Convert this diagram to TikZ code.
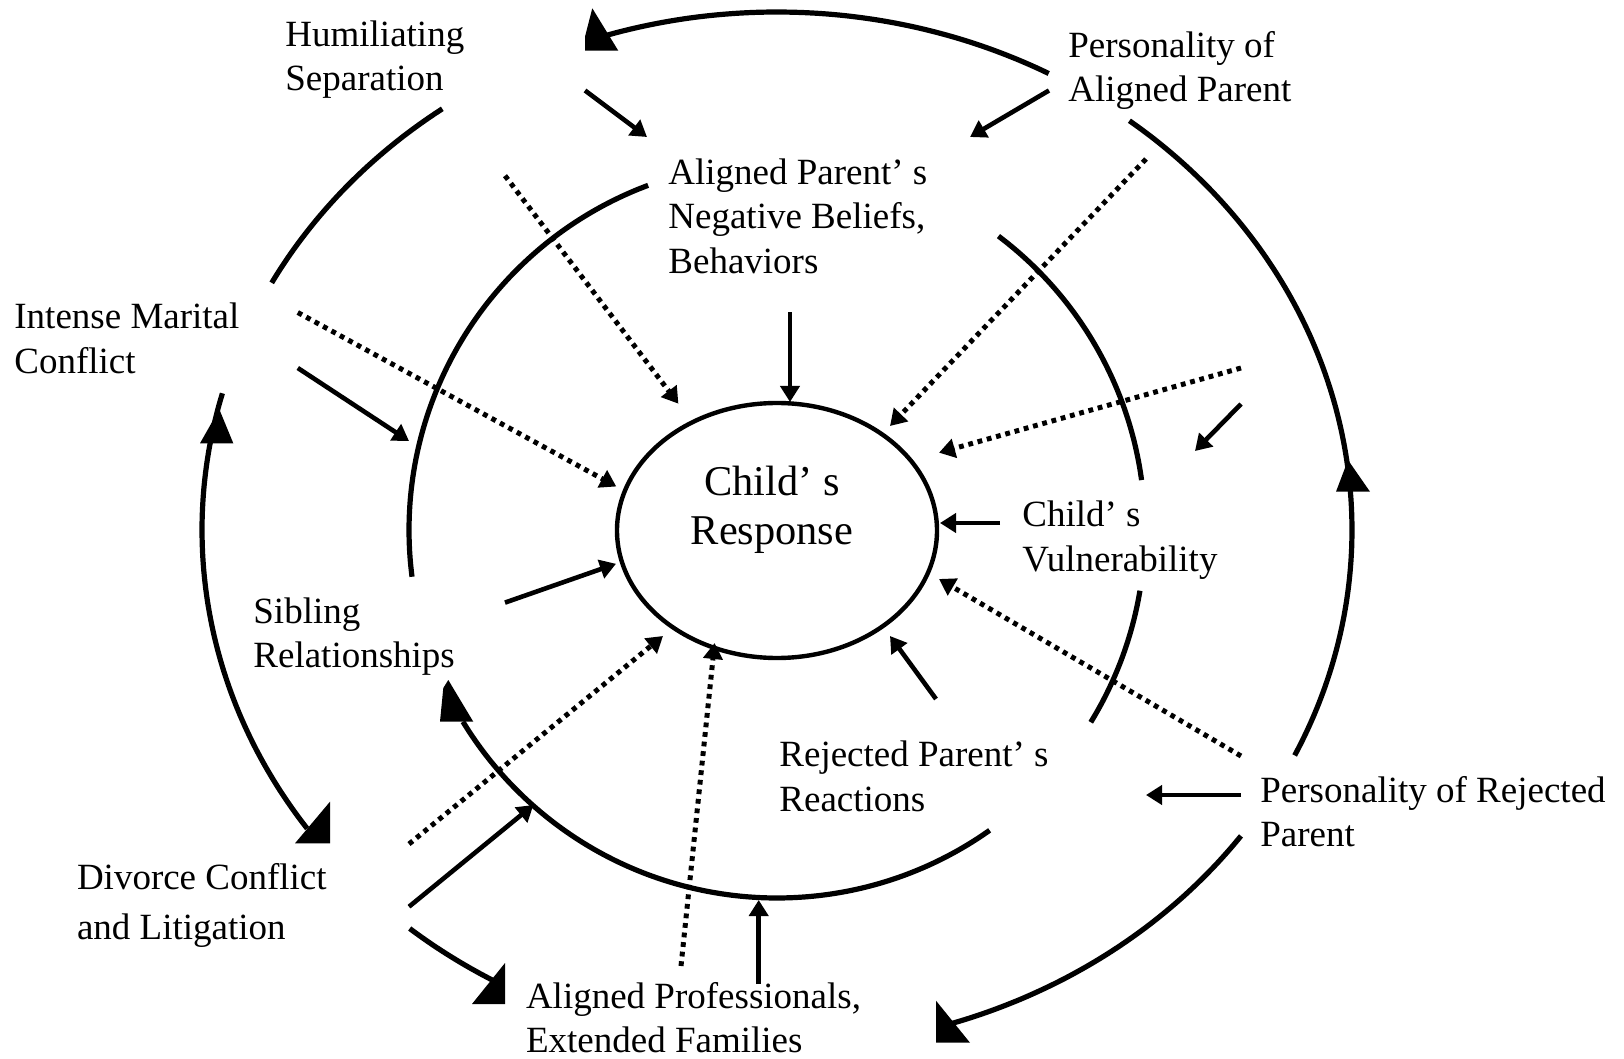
\documentclass[tikz,border=0pt]{standalone}
\usepackage{fontspec}
\setmainfont{Liberation Serif}
\usetikzlibrary{arrows.meta,shapes.geometric}
\newcommand\lblstrut{\rule{0pt}{13.9pt}}
\newcommand\bigstrut{\rule{0pt}{15.9pt}}
\begin{document}
\begin{tikzpicture}[x=0.5pt,y=-0.5pt,
  ring/.style={line width=2.6pt},
  sarr/.style={line width=2.3pt,-{Triangle[length=8pt,width=9.5pt]}},
  darr/.style={line width=2.5pt,dash pattern=on 2.4pt off 2.4pt,-{Triangle[length=8pt,width=9.5pt]}},
  lbl/.style={anchor=north west, inner sep=0pt, align=left, font={\fontsize{18.5}{22.25}\selectfont}},
]
\useasboundingbox (0,0) rectangle (1624,1059);

% labels
\node[lbl] (hum) at (285,17.9) {\lblstrut Humiliating\\Separation};
\node[lbl] (pap) at (1068,29) {\lblstrut Personality of\\Aligned Parent};
\node[lbl] (apb) at (668,156.2) {\lblstrut Aligned Parent’ s\\Negative Beliefs,\\Behaviors};
\node[lbl] (imc) at (14,300.6) {\lblstrut Intense Marital\\Conflict};
\node[lbl] (cvu) at (1022,498.7) {\lblstrut Child’ s\\Vulnerability};
\node[lbl] (sib) at (253,595) {\lblstrut Sibling\\Relationships};
\node[lbl] (rpr) at (779,738.7) {\lblstrut Rejected Parent’ s\\Reactions};
\node[lbl] (prp) at (1260,774.2) {\lblstrut Personality of Rejected\\Parent};
\node[lbl, font={\fontsize{18.5}{25}\selectfont}] (dcl) at (76.6,861) {\lblstrut Divorce Conflict\\and Litigation};
\node[lbl] (apf) at (525.6,980) {\lblstrut Aligned Professionals,\\Extended Families};

% central ellipse
\node[draw, ellipse, line width=2.2pt, minimum width=160pt, minimum height=127.5pt, inner sep=0pt] (resp) at (777,530.5) {};
\node[anchor=north, inner sep=0pt, align=center, font={\fontsize{21.2}{24.5}\selectfont}] (resptxt) at (772,463.2) {\bigstrut Child’ s\\Response};

% outer ring arcs
\draw[ring] plot[domain=61.8:107.2, samples=40, smooth] ({777+575*cos(\x)},{530-518*sin(\x)});
\draw[ring] plot[domain=125.6:151.5, samples=30, smooth] ({777+575*cos(\x)},{530-518*sin(\x)});
\draw[ring] plot[domain=164.7:215.2, samples=40, smooth] ({777+575*cos(\x)},{530-518*sin(\x)});
\draw[ring] plot[domain=230.3:240.6, samples=20, smooth] ({777+575*cos(\x)},{530-518*sin(\x)});
\draw[ring] plot[domain=-72.5:-36.2, samples=30, smooth] ({777+575*cos(\x)},{530-518*sin(\x)});
\draw[ring] plot[domain=-25.8:52.2, samples=50, smooth] ({777+575*cos(\x)},{530-518*sin(\x)});

% outer ring arrowheads
\fill (592.3,8.3) -- (585,36.7) -- (585,50.7) -- (618.3,50.7) -- cycle;
\fill (219.3,409.3) -- (200,443.3) -- (233.3,443.3) -- cycle;
\fill (330,801.7) -- (330,843.3) -- (295,843.3) -- cycle;
\fill (505,963) -- (505,1004) -- (472,1004) -- cycle;
\fill (936,1000.7) -- (936,1042.7) -- (970,1042.7) -- cycle;
\fill (1348,460) -- (1336,491.7) -- (1370,491.7) -- cycle;

% middle ring arcs
\draw[ring] plot[domain=110.5:187.3, samples=40, smooth] ({777+368*cos(\x)},{530-368*sin(\x)});
\draw[ring] plot[domain=7.8:53, samples=30, smooth] ({777+368*cos(\x)},{530-368*sin(\x)});
\draw[ring] plot[domain=-31.5:-9.5, samples=20, smooth] ({777+368*cos(\x)},{530-368*sin(\x)});
\draw[ring] plot[domain=211.4:305.3, samples=50, smooth] ({777+368*cos(\x)},{530-368*sin(\x)});
\fill (448.3,680) -- (443.3,688) -- (440,721.7) -- (473.3,721.7) -- cycle;

% connector end points
\coordinate (a1) at (585,90.5);   \coordinate (a2) at (647,137);
\coordinate (b1) at (1049,90.5);  \coordinate (b2) at (970,137);
\coordinate (c1) at (790,312.5);  \coordinate (c2) at (790,402);
\coordinate (d1) at (297.8,368);  \coordinate (d2) at (409,441);
\coordinate (e1) at (1241,404);   \coordinate (e2) at (1195,451);
\coordinate (f1) at (1000,523);   \coordinate (f2) at (940,523);
\coordinate (g1) at (505,602.6);  \coordinate (g2) at (616,563.8);
\coordinate (h1) at (936,699);    \coordinate (h2) at (890,636);
\coordinate (i1) at (1241,795);   \coordinate (i2) at (1146,795);
\coordinate (j1) at (409,906.7);  \coordinate (j2) at (533.4,805);
\coordinate (k1) at (758.7,984);  \coordinate (k2) at (758.7,900);
\coordinate (l1) at (505,175.7);  \coordinate (l2) at (678.4,403.7);
\coordinate (m1) at (297.8,312.5); \coordinate (m2) at (616.3,486.5);
\coordinate (n1) at (1146,159);   \coordinate (n2) at (890,426);
\coordinate (o1) at (1241,368);   \coordinate (o2) at (939,452.7);
\coordinate (p1) at (1241,756);   \coordinate (p2) at (939,579);
\coordinate (q1) at (409,844);    \coordinate (q2) at (663,636);
\coordinate (r1) at (681,966);    \coordinate (r2) at (714.6,643);

% solid arrows
\draw[sarr] (a1) -- (a2);
\draw[sarr] (b1) -- (b2);
\draw[sarr] (c1) -- (c2);
\draw[sarr] (d1) -- (d2);
\draw[sarr] (e1) -- (e2);
\draw[sarr] (f1) -- (f2);
\draw[sarr] (g1) -- (g2);
\draw[sarr] (h1) -- (h2);
\draw[sarr] (i1) -- (i2);
\draw[sarr] (j1) -- (j2);
\draw[sarr] (k1) -- (k2);

% dotted arrows
\draw[darr] (l1) -- (l2);
\draw[darr] (m1) -- (m2);
\draw[darr] (n1) -- (n2);
\draw[darr] (o1) -- (o2);
\draw[darr] (p1) -- (p2);
\draw[darr] (q1) -- (q2);
\draw[darr] (r1) -- (r2);
\end{tikzpicture}
\end{document}
